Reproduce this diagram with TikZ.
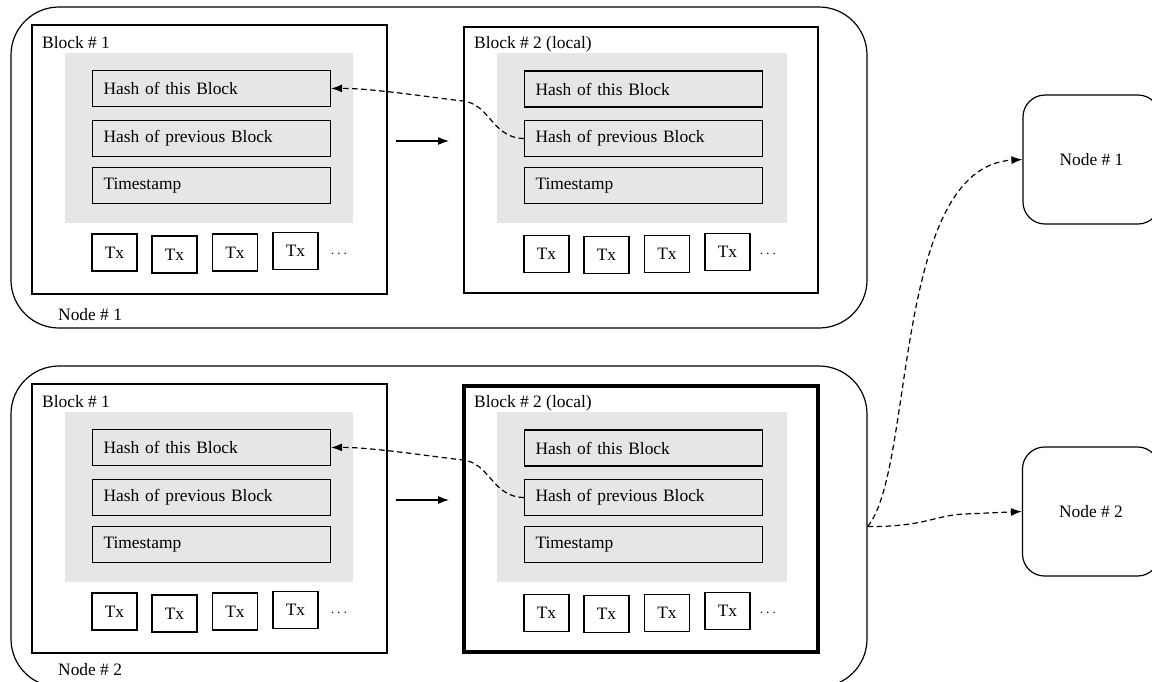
\documentclass[tikz,border=0pt]{standalone}
\usepackage{fontspec}
\setmainfont{Liberation Serif}
\usetikzlibrary{arrows.meta,fit}
\definecolor{panel}{RGB}{231,229,230}
\begin{document}
\begin{tikzpicture}[x=1pt,y=-1pt,
  font=\fontsize{17.4}{20}\selectfont,
  outerbox/.style={draw, rounded corners=48pt, line width=1.2pt, inner sep=0pt},
  blockbox/.style={draw, inner sep=0pt},
  panelbox/.style={fill=panel, inner sep=0pt},
  field/.style={draw, fill=panel, line width=1.1pt, anchor=west, minimum height=36pt,
                text width=216pt, inner xsep=11pt, inner ysep=0pt, align=left},
  txbox/.style={draw, fill=white, line width=1.1pt, minimum width=45pt, minimum height=37pt, inner sep=0pt},
  peer/.style={draw, rounded corners=22pt, line width=1.2pt, minimum width=137pt, minimum height=129pt},
  lbl/.style={anchor=west, inner sep=0pt},
  dotsnode/.style={inner sep=0pt, font=\fontsize{15}{17}\selectfont},
  link/.style={dash pattern=on 5.5pt off 3.5pt, line width=1.2pt, -{Latex[length=11pt,width=8pt]}},
  flow/.style={line width=1.2pt, -{Latex[length=11pt,width=8pt]}}]
\useasboundingbox (0,0) rectangle (1152,681);
\clip (0,0) rectangle (1152,681);
\foreach \k/\dy/\lw/\n/\ly in {a/0/1.1pt/1/315, b/359/3.6pt/2/311} {
\begin{scope}[yshift=-\dy pt]
  % outer machine
  \node[outerbox, fit={(11,7) (867,328)}] (outer\k) {};
  \node[lbl] (nl\k) at (58,\ly) {Node \# \n};
  % block 1
  \node[blockbox, line width=1.1pt, fit={(32,25) (387,294)}] (bA\k) {};
  \node[lbl] (bAl\k) at (42,43) {Block \# 1};
  \node[panelbox, fit={(65,53) (353,223)}] (pA\k) {};
  \node[field] (h1\k) at (92,88.5) {Hash of this Block};
  \node[field] (p1\k) at (92,138.5) {Hash of previous Block};
  \node[field] (t1\k) at (92,185.5) {Timestamp};
  \node[txbox] (xA1\k) at (114.5,252.5) {Tx};
  \node[txbox] (xA2\k) at (174.5,254.5) {Tx};
  \node[txbox] (xA3\k) at (235,252.5) {Tx};
  \node[txbox] (xA4\k) at (295.5,251) {Tx};
  \node[dotsnode] (dA\k) at (339,254) {$\cdots$};
  % block 2
  \node[blockbox, line width=\lw, fit={(464,27) (818,293)}] (bB\k) {};
  \node[lbl] (bBl\k) at (474,44) {Block \# 2 (local)};
  \node[panelbox, fit={(497,53) (787,223)}] (pB\k) {};
  \node[field] (h2\k) at (524,89) {Hash of this Block};
  \node[field] (p2\k) at (524,138.5) {Hash of previous Block};
  \node[field] (t2\k) at (524,185.5) {Timestamp};
  \node[txbox] (xB1\k) at (546.5,254) {Tx};
  \node[txbox] (xB2\k) at (606.5,255) {Tx};
  \node[txbox] (xB3\k) at (667,254) {Tx};
  \node[txbox] (xB4\k) at (727.5,252) {Tx};
  \node[dotsnode] (dB\k) at (768,254) {$\cdots$};
  % connectors
  \coordinate (fs\k) at (396,141);
  \coordinate (fe\k) at (449,141);
  \draw[flow] (fs\k) -- (fe\k);
  \draw[link] (p2\k.west) .. controls (492,138) and (490,104) .. (463,101)
              .. controls (436,98) and (370,88) .. (h1\k.east);
\end{scope}
}
\node[peer] (n1) at (1091.5,159.5) {Node \# 1};
\node[peer] (n2) at (1091,511.5) {Node \# 2};
\draw[link] (outerb.east) .. controls (915,470) and (892,167) .. (n1.west);
\draw[link] (outerb.east) .. controls (925,527) and (935,515) .. (965,514) -- (n2.west);
\end{tikzpicture}
\end{document}
